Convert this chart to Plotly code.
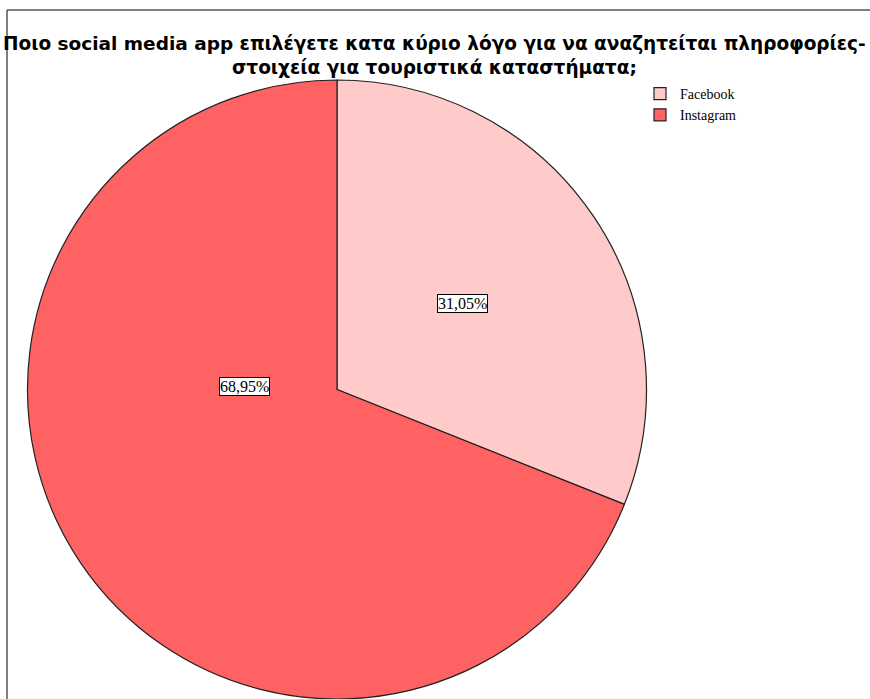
import plotly.graph_objects as go
import math

labels = ["Facebook", "Instagram"]
values = [31.05, 68.95]
colors = ["#FFCACA", "#FF6262"]
title_text = "Ποιο social media app επιλέγετε κατα κύριο λόγο για να αναζητείται πληροφορίες-<br>στοιχεία για τουριστικά καταστήματα;"

W, H = 870, 699
# pie domain in pixels
px0, px1 = 27, 647
py_top = 80
dom_x = [px0 / W, px1 / W]
dom_y = [0, (H - py_top) / H]

fig = go.Figure(go.Pie(
    labels=labels, values=values, sort=False, direction="clockwise", rotation=0,
    marker=dict(colors=colors, line=dict(color="#222222", width=1.2)),
    textinfo="none", hoverinfo="label+percent",
    domain=dict(x=dom_x, y=dom_y), showlegend=True,
))

# label placement (fraction of radius, angle in degrees clockwise from top)
cx = (px0 + px1) / 2
r = (px1 - px0) / 2
cy = H - r
total = sum(values)
label_pos = [(0.49, None), (0.38, 271)]
annotations = []
start = 0
for v, (fr, ang) in zip(values, label_pos):
    sweep = v / total * 360
    a = ang if ang is not None else start + sweep / 2
    start += sweep
    x = cx + fr * r * math.sin(math.radians(a))
    y = cy - fr * r * math.cos(math.radians(a))
    txt = f"{v:.2f}%".replace(".", ",")
    annotations.append(dict(
        x=x / W, y=1 - y / H, xref="paper", yref="paper", text=txt, showarrow=False,
        font=dict(family="Liberation Serif", size=16, color="black"),
        bgcolor="white", bordercolor="black", borderwidth=1, borderpad=0,
    ))

annotations.append(dict(
    x=434 / W, y=1 - 31 / H, xref="paper", yref="paper", text=title_text, showarrow=False,
    xanchor="center", yanchor="top",
    font=dict(family="DejaVu Sans", size=18.5, color="black", weight="bold"),
))

fig.update_layout(
    width=W, height=H, margin=dict(l=0, r=0, t=0, b=0),
    paper_bgcolor="white", plot_bgcolor="white",
    annotations=annotations,
    legend=dict(x=640 / W, y=1 - 78 / H, xanchor="left", yanchor="top",
                font=dict(family="Liberation Serif", size=14, color="black"),
                tracegroupgap=0, itemwidth=30, bgcolor="rgba(0,0,0,0)"),
    shapes=[
        dict(type="line", xref="paper", yref="paper", x0=7 / W, x1=1, y0=1 - 10 / H, y1=1 - 10 / H,
             line=dict(color="#555555", width=1.5)),
        dict(type="line", xref="paper", yref="paper", x0=7 / W, x1=7 / W, y0=0, y1=1 - 10 / H,
             line=dict(color="#555555", width=1.5)),
    ],
)

fig.write_html("out.html")
